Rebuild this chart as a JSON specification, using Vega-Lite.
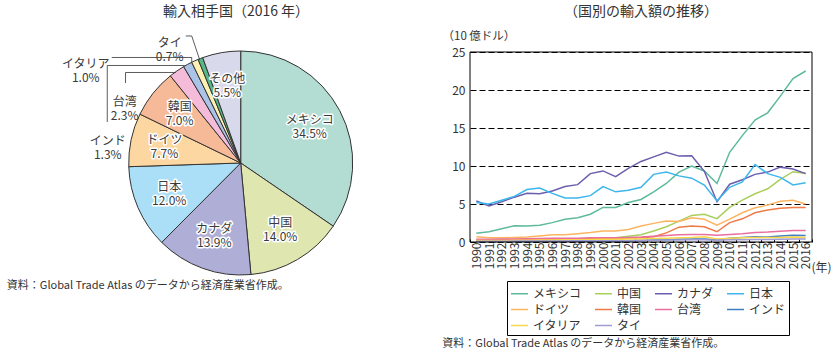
{
  "$schema": "https://vega.github.io/schema/vega-lite/v6.json",
  "padding": {"left": 0, "top": 4, "right": 0, "bottom": 0},
  "spacing": 2,
  "background": "white",
  "config": {
    "font": "Noto Sans CJK JP",
    "view": {"stroke": null},
    "title": {"fontSize": 14, "fontWeight": "normal", "color": "#333"},
    "axis": {"labelColor": "#333", "titleColor": "#333", "titleFontWeight": "normal"},
    "legend": {"labelColor": "#333"}
  },
  "resolve": {"scale": {"x": "independent", "y": "independent", "color": "independent"}, "legend": {"color": "independent"}},
  "datasets": {
    "pie": [
      {"country": "メキシコ", "share": 0.345},
      {"country": "中国", "share": 0.140},
      {"country": "カナダ", "share": 0.139},
      {"country": "日本", "share": 0.120},
      {"country": "ドイツ", "share": 0.077},
      {"country": "韓国", "share": 0.070},
      {"country": "台湾", "share": 0.023},
      {"country": "インド", "share": 0.013},
      {"country": "イタリア", "share": 0.010},
      {"country": "タイ", "share": 0.007},
      {"country": "その他", "share": 0.055}
    ],
    "imports": [
      {"year": "1990", "メキシコ": 1.15, "中国": 0.10, "カナダ": 5.4, "日本": 5.2, "ドイツ": 0.7, "韓国": 0.3, "台湾": 0.35, "インド": 0.05, "イタリア": 0.2, "タイ": 0.1},
      {"year": "1991", "メキシコ": 1.35, "中国": 0.12, "カナダ": 4.75, "日本": 5.0, "ドイツ": 0.55, "韓国": 0.3, "台湾": 0.35, "インド": 0.05, "イタリア": 0.2, "タイ": 0.1},
      {"year": "1992", "メキシコ": 1.75, "中国": 0.15, "カナダ": 5.3, "日本": 5.5, "ドイツ": 0.55, "韓国": 0.3, "台湾": 0.38, "インド": 0.06, "イタリア": 0.2, "タイ": 0.1},
      {"year": "1993", "メキシコ": 2.15, "中国": 0.18, "カナダ": 5.9, "日本": 6.0, "ドイツ": 0.6, "韓国": 0.32, "台湾": 0.4, "インド": 0.07, "イタリア": 0.22, "タイ": 0.12},
      {"year": "1994", "メキシコ": 2.1, "中国": 0.2, "カナダ": 6.4, "日本": 6.9, "ドイツ": 0.65, "韓国": 0.35, "台湾": 0.42, "インド": 0.08, "イタリア": 0.22, "タイ": 0.12},
      {"year": "1995", "メキシコ": 2.2, "中国": 0.22, "カナダ": 6.35, "日本": 7.1, "ドイツ": 0.8, "韓国": 0.38, "台湾": 0.45, "インド": 0.09, "イタリア": 0.25, "タイ": 0.13},
      {"year": "1996", "メキシコ": 2.55, "中国": 0.25, "カナダ": 6.7, "日本": 6.4, "ドイツ": 0.95, "韓国": 0.4, "台湾": 0.48, "インド": 0.1, "イタリア": 0.27, "タイ": 0.14},
      {"year": "1997", "メキシコ": 3.0, "中国": 0.3, "カナダ": 7.3, "日本": 5.8, "ドイツ": 0.95, "韓国": 0.42, "台湾": 0.5, "インド": 0.1, "イタリア": 0.28, "タイ": 0.14},
      {"year": "1998", "メキシコ": 3.2, "中国": 0.35, "カナダ": 7.55, "日本": 5.8, "ドイツ": 1.1, "韓国": 0.4, "台湾": 0.5, "インド": 0.1, "イタリア": 0.3, "タイ": 0.15},
      {"year": "1999", "メキシコ": 3.65, "中国": 0.4, "カナダ": 9.0, "日本": 6.1, "ドイツ": 1.25, "韓国": 0.45, "台湾": 0.55, "インド": 0.12, "イタリア": 0.32, "タイ": 0.15},
      {"year": "2000", "メキシコ": 4.55, "中国": 0.5, "カナダ": 9.35, "日本": 7.3, "ドイツ": 1.45, "韓国": 0.45, "台湾": 0.55, "インド": 0.13, "イタリア": 0.35, "タイ": 0.17},
      {"year": "2001", "メキシコ": 4.55, "中国": 0.55, "カナダ": 8.6, "日本": 6.6, "ドイツ": 1.45, "韓国": 0.42, "台湾": 0.55, "インド": 0.13, "イタリア": 0.35, "タイ": 0.17},
      {"year": "2002", "メキシコ": 5.2, "中国": 0.75, "カナダ": 9.7, "日本": 6.8, "ドイツ": 1.65, "韓国": 0.5, "台湾": 0.6, "インド": 0.15, "イタリア": 0.38, "タイ": 0.18},
      {"year": "2003", "メキシコ": 5.6, "中国": 0.95, "カナダ": 10.6, "日本": 7.2, "ドイツ": 2.1, "韓国": 0.55, "台湾": 0.65, "インド": 0.2, "イタリア": 0.4, "タイ": 0.2},
      {"year": "2004", "メキシコ": 6.6, "中国": 1.45, "カナダ": 11.2, "日本": 8.9, "ドイツ": 2.45, "韓国": 0.7, "台湾": 0.75, "インド": 0.25, "イタリア": 0.45, "タイ": 0.22},
      {"year": "2005", "メキシコ": 7.7, "中国": 2.0, "カナダ": 11.8, "日本": 9.2, "ドイツ": 2.75, "韓国": 1.2, "台湾": 0.85, "インド": 0.3, "イタリア": 0.5, "タイ": 0.25},
      {"year": "2006", "メキシコ": 9.2, "中国": 2.75, "カナダ": 11.3, "日本": 8.7, "ドイツ": 2.7, "韓国": 1.95, "台湾": 0.95, "インド": 0.35, "イタリア": 0.55, "タイ": 0.27},
      {"year": "2007", "メキシコ": 10.0, "中国": 3.5, "カナダ": 11.35, "日本": 8.4, "ドイツ": 3.2, "韓国": 2.1, "台湾": 1.0, "インド": 0.4, "イタリア": 0.6, "タイ": 0.3},
      {"year": "2008", "メキシコ": 9.35, "中国": 3.65, "カナダ": 9.3, "日本": 7.5, "ドイツ": 3.0, "韓国": 2.0, "台湾": 1.0, "インド": 0.4, "イタリア": 0.7, "タイ": 0.3},
      {"year": "2009", "メキシコ": 7.7, "中国": 3.07, "カナダ": 5.3, "日本": 5.4, "ドイツ": 2.2, "韓国": 1.35, "台湾": 0.9, "インド": 0.3, "イタリア": 0.4, "タイ": 0.22},
      {"year": "2010", "メキシコ": 11.8, "中国": 4.55, "カナダ": 7.6, "日本": 7.2, "ドイツ": 3.0, "韓国": 2.55, "台湾": 1.0, "インド": 0.5, "イタリア": 0.5, "タイ": 0.28},
      {"year": "2011", "メキシコ": 14.0, "中国": 5.5, "カナダ": 8.2, "日本": 7.9, "ドイツ": 3.85, "韓国": 3.05, "台湾": 1.1, "インド": 0.6, "イタリア": 0.55, "タイ": 0.3},
      {"year": "2012", "メキシコ": 16.05, "中国": 6.35, "カナダ": 8.9, "日本": 10.2, "ドイツ": 4.5, "韓国": 3.85, "台湾": 1.25, "インド": 0.7, "イタリア": 0.6, "タイ": 0.32},
      {"year": "2013", "メキシコ": 17.0, "中国": 7.0, "カナダ": 9.2, "日本": 9.0, "ドイツ": 4.85, "韓国": 4.2, "台湾": 1.3, "インド": 0.65, "イタリア": 0.6, "タイ": 0.33},
      {"year": "2014", "メキシコ": 19.2, "中国": 8.25, "カナダ": 9.85, "日本": 8.5, "ドイツ": 5.35, "韓国": 4.45, "台湾": 1.4, "インド": 0.8, "イタリア": 0.6, "タイ": 0.35},
      {"year": "2015", "メキシコ": 21.5, "中国": 9.25, "カナダ": 9.6, "日本": 7.5, "ドイツ": 5.5, "韓国": 4.55, "台湾": 1.5, "インド": 0.9, "イタリア": 0.65, "タイ": 0.38},
      {"year": "2016", "メキシコ": 22.5, "中国": 9.0, "カナダ": 9.0, "日本": 7.8, "ドイツ": 5.0, "韓国": 4.55, "台湾": 1.5, "インド": 0.85, "イタリア": 0.6, "タイ": 0.4}
    ]
  },
  "hconcat": [
    {
      "width": 440,
      "height": 252,
      "title": {"text": "輸入相手国（2016 年）", "anchor": "middle", "frame": "group", "dx": 16, "offset": 17},
      "data": {"name": "pie"},
      "transform": [{"window": [{"op": "row_number", "as": "idx"}]}],
      "layer": [
        {
          "mark": {"type": "arc", "outerRadius": 112, "stroke": "#333", "strokeWidth": 1},
          "encoding": {
            "x": {"datum": 0, "type": "quantitative", "scale": {"domain": [-2.15, 1.78], "nice": false, "zero": false}, "axis": null},
            "y": {"datum": 0, "type": "quantitative", "scale": {"domain": [-1.259, 0.991], "nice": false, "zero": false}, "axis": null},
            "theta": {"field": "share", "type": "quantitative", "stack": true},
            "order": {"field": "idx", "type": "quantitative"},
            "color": {
              "field": "country", "type": "nominal", "legend": null,
              "scale": {
                "domain": ["メキシコ", "中国", "カナダ", "日本", "ドイツ", "韓国", "台湾", "インド", "イタリア", "タイ", "その他"],
                "range": ["#b3dcd3", "#dfe6b0", "#afaed6", "#aadff7", "#fcd7a2", "#f6ba98", "#f4bcd8", "#aac3e6", "#fdf0b2", "#57b887", "#d9d9ec"]
              }
            }
          }
        },
        {
          "mark": {"type": "text", "radius": 78, "dy": -7, "fontSize": 12, "fill": "white", "stroke": "white", "strokeWidth": 3, "strokeJoin": "round"},
          "encoding": {
            "x": {"datum": 0, "type": "quantitative"},
            "y": {"datum": 0, "type": "quantitative"},
            "theta": {"field": "share", "type": "quantitative", "stack": true},
            "order": {"field": "idx", "type": "quantitative"},
            "text": {"condition": {"test": "datum.share < 0.05", "value": ""}, "field": "country", "type": "nominal"}
          }
        },
        {
          "mark": {"type": "text", "radius": 78, "dy": 7, "fontSize": 12, "fill": "white", "stroke": "white", "strokeWidth": 3, "strokeJoin": "round"},
          "encoding": {
            "x": {"datum": 0, "type": "quantitative"},
            "y": {"datum": 0, "type": "quantitative"},
            "theta": {"field": "share", "type": "quantitative", "stack": true},
            "order": {"field": "idx", "type": "quantitative"},
            "text": {"condition": {"test": "datum.share < 0.05", "value": ""}, "field": "share", "type": "quantitative", "format": ".1%"}
          }
        },
        {
          "mark": {"type": "text", "radius": 78, "dy": -7, "fontSize": 12, "fill": "#3a3a3a"},
          "encoding": {
            "x": {"datum": 0, "type": "quantitative"},
            "y": {"datum": 0, "type": "quantitative"},
            "theta": {"field": "share", "type": "quantitative", "stack": true},
            "order": {"field": "idx", "type": "quantitative"},
            "text": {"condition": {"test": "datum.share < 0.05", "value": ""}, "field": "country", "type": "nominal"}
          }
        },
        {
          "mark": {"type": "text", "radius": 78, "dy": 7, "fontSize": 12, "fill": "#3a3a3a"},
          "encoding": {
            "x": {"datum": 0, "type": "quantitative"},
            "y": {"datum": 0, "type": "quantitative"},
            "theta": {"field": "share", "type": "quantitative", "stack": true},
            "order": {"field": "idx", "type": "quantitative"},
            "text": {"condition": {"test": "datum.share < 0.05", "value": ""}, "field": "share", "type": "quantitative", "format": ".1%"}
          }
        },
        {
          "data": {"values": [{}]},
          "mark": {"type": "text", "fontSize": 12, "fill": "#3a3a3a", "align": "center", "baseline": "middle", "lineHeight": 14},
          "encoding": {"x": {"datum": -0.634}, "y": {"datum": 1.067}, "text": {"value": ["タイ", "0.7%"]}}
        },
        {
          "data": {"values": [{}]},
          "mark": {"type": "text", "fontSize": 12, "fill": "#3a3a3a", "align": "center", "baseline": "middle", "lineHeight": 14},
          "encoding": {"x": {"datum": -1.384}, "y": {"datum": 0.884}, "text": {"value": ["イタリア", "1.0%"]}}
        },
        {
          "data": {"values": [{}]},
          "mark": {"type": "text", "fontSize": 12, "fill": "#3a3a3a", "align": "center", "baseline": "middle", "lineHeight": 14},
          "encoding": {"x": {"datum": -1.036}, "y": {"datum": 0.545}, "text": {"value": ["台湾", "2.3%"]}}
        },
        {
          "data": {"values": [{}]},
          "mark": {"type": "text", "fontSize": 12, "fill": "#3a3a3a", "align": "center", "baseline": "middle", "lineHeight": 14},
          "encoding": {"x": {"datum": -1.1875}, "y": {"datum": 0.192}, "text": {"value": ["インド", "1.3%"]}}
        },
        {
          "data": {"values": [{}]},
          "mark": {"type": "rule", "color": "#333", "strokeWidth": 0.8},
          "encoding": {"x": {"datum": -0.491}, "y": {"datum": 1.134}, "x2": {"datum": -0.4375}, "y2": {"datum": 1.134}}
        },
        {
          "data": {"values": [{}]},
          "mark": {"type": "rule", "color": "#333", "strokeWidth": 0.8},
          "encoding": {"x": {"datum": -0.4375}, "y": {"datum": 1.134}, "x2": {"datum": -0.366}, "y2": {"datum": 0.92}}
        },
        {
          "data": {"values": [{}]},
          "mark": {"type": "rule", "color": "#333", "strokeWidth": 0.8},
          "encoding": {"x": {"datum": -1.152}, "y": {"datum": 0.942}, "x2": {"datum": -0.4375}, "y2": {"datum": 0.942}}
        },
        {
          "data": {"values": [{}]},
          "mark": {"type": "rule", "color": "#333", "strokeWidth": 0.8},
          "encoding": {"x": {"datum": -0.4375}, "y": {"datum": 0.942}, "x2": {"datum": -0.4375}, "y2": {"datum": 0.9}}
        },
        {
          "data": {"values": [{}]},
          "mark": {"type": "rule", "color": "#333", "strokeWidth": 0.8},
          "encoding": {"x": {"datum": -1.192}, "y": {"datum": 0.366}, "x2": {"datum": -1.192}, "y2": {"datum": 0.8705}}
        },
        {
          "data": {"values": [{}]},
          "mark": {"type": "rule", "color": "#333", "strokeWidth": 0.8},
          "encoding": {"x": {"datum": -1.192}, "y": {"datum": 0.8705}, "x2": {"datum": -0.5}, "y2": {"datum": 0.8705}}
        },
        {
          "data": {"values": [{}]},
          "mark": {"type": "rule", "color": "#333", "strokeWidth": 0.8},
          "encoding": {"x": {"datum": -1.029}, "y": {"datum": 0.714}, "x2": {"datum": -1.029}, "y2": {"datum": 0.808}}
        },
        {
          "data": {"values": [{}]},
          "mark": {"type": "rule", "color": "#333", "strokeWidth": 0.8},
          "encoding": {"x": {"datum": -1.029}, "y": {"datum": 0.808}, "x2": {"datum": -0.58}, "y2": {"datum": 0.808}}
        },
        {
          "data": {"values": [{}]},
          "mark": {"type": "text", "fontSize": 11, "fill": "#333", "align": "left", "baseline": "middle"},
          "encoding": {"x": {"datum": -2.089}, "y": {"datum": -1.098}, "text": {"value": "資料：Global Trade Atlas のデータから経済産業省作成。"}}
        }
      ]
    },
    {
      "width": 342,
      "height": 190,
      "title": {"text": "（国別の輸入額の推移）", "anchor": "middle", "frame": "group", "offset": 11},
      "layer": [
        {
          "data": {"name": "imports"},
          "transform": [{"fold": ["メキシコ", "中国", "カナダ", "日本", "ドイツ", "韓国", "台湾", "インド", "イタリア", "タイ"], "as": ["country", "value"]}],
          "mark": {"type": "line", "strokeWidth": 1.5},
          "encoding": {
            "x": {
              "field": "year", "type": "ordinal", "bandPosition": 0.5,
              "scale": {"type": "band", "paddingInner": 0, "paddingOuter": 0},
              "axis": {
                "title": "(年)", "titleAngle": 0, "titleX": 351, "titleY": 25, "titleAlign": "center", "titleBaseline": "middle", "titleFontSize": 12,
                "labelAngle": -90, "labelFontSize": 12, "labelPadding": 3, "labelOverlap": false,
                "tickBand": "extent", "tickSize": -3, "tickColor": "black",
                "domain": false, "grid": false
              }
            },
            "y": {
              "field": "value", "type": "quantitative",
              "scale": {"domain": [0, 25], "nice": false},
              "axis": {
                "values": [0, 5, 10, 15, 20, 25], "tickCount": 10, "labelOverlap": false,
                "title": "（10 億ドル）", "titleAngle": 0, "titleX": -28, "titleY": -16, "titleAlign": "left", "titleBaseline": "middle", "titleFontSize": 11.5,
                "labelFontSize": 12, "labelPadding": 5, "ticks": false, "domain": false,
                "grid": true, "gridColor": "black", "gridDash": [6, 3], "gridWidth": 1
              }
            },
            "color": {
              "field": "country", "type": "nominal",
              "scale": {
                "domain": ["メキシコ", "中国", "カナダ", "日本", "ドイツ", "韓国", "台湾", "インド", "イタリア", "タイ"],
                "range": ["#5dba9c", "#a9cf5b", "#6b5fae", "#3cb6ec", "#fcb461", "#f07a46", "#e96f9e", "#3f7fc2", "#f9d74a", "#9f9bd3"]
              },
              "legend": {
                "title": null, "orient": "none", "legendX": 37, "legendY": 229, "columns": 4, "direction": "horizontal",
                "symbolType": "stroke", "symbolSize": 289, "symbolStrokeWidth": 1.5,
                "labelFontSize": 12, "labelOffset": 4, "columnPadding": 10, "rowPadding": 0,
                "padding": 3, "strokeColor": "black"
              }
            }
          }
        },
        {
          "data": {"values": [{}]},
          "mark": {"type": "rect", "fill": "transparent", "stroke": "black", "strokeWidth": 1},
          "encoding": {}
        },
        {
          "data": {"values": [{}]},
          "mark": {"type": "text", "fontSize": 11, "fill": "#333", "align": "left", "baseline": "middle", "dx": -34},
          "encoding": {
            "x": {"datum": "1990", "type": "ordinal"},
            "y": {"datum": -13.4, "type": "quantitative"},
            "text": {"value": "資料：Global Trade Atlas のデータから経済産業省作成。"}
          }
        }
      ]
    }
  ]
}
